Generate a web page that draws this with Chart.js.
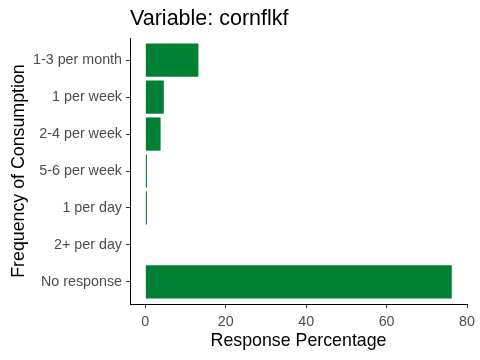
<!DOCTYPE html>
<html lang="en">
<head>
    <meta charset="UTF-8">
    <title>Variable: cornflkf</title>
    <script src="https://cdn.jsdelivr.net/npm/chart.js@4"></script>
    <style>
        body{ margin:0; background:#fff; }
        #wrap{ width:480px; height:360px; }
    </style>
</head>
<body>
    <div id="wrap"><canvas id="myChart" width="480" height="360"></canvas></div>

    <script>
        // categories top to bottom, values in percent
        const categories = ['1-3 per month', '1 per week', '2-4 per week', '5-6 per week', '1 per day', '2+ per day', 'No response'];
        const percents = [13.2, 4.6, 3.8, 0.4, 0.4, 0, 76.2];
        const xTicks = [0, 20, 40, 60, 80];

        const font = 'Arial, "Liberation Sans", sans-serif';

        // linear index axis so the padding at the ends can be like ggplot (0.6 of a step)
        const points = categories.map((c, i) => ({ x: percents[i], y: i }));

        const ctx = document.getElementById('myChart').getContext('2d');
        const myChart = new Chart(ctx, {
            type: 'bar',
            data: {
                datasets: [{
                    data: points,
                    backgroundColor: '#008033',
                    borderWidth: 0,
                    barPercentage: 0.9,
                    categoryPercentage: 1
                }]
            },
            options: {
                indexAxis: 'y',
                responsive: false,
                animation: false,
                layout: { padding: { left: 0, right: 10.7, top: 0, bottom: 0 } },
                plugins: {
                    legend: { display: false },
                    tooltip: { enabled: false },
                    title: {
                        display: true,
                        text: 'Variable: cornflkf',
                        align: 'start',
                        fullSize: false,
                        color: '#000',
                        font: { family: font, size: 21.5, weight: 'normal', lineHeight: 1.2 },
                        padding: { top: 6.5, bottom: 5.7 }
                    }
                },
                scales: {
                    x: {
                        type: 'linear',
                        min: -3.81,
                        max: 80,
                        afterFit: s => { s.height = 56; },
                        afterBuildTicks: s => { s.ticks = xTicks.map(v => ({ value: v })); },
                        ticks: { color: '#4d4d4d', padding: 5, font: { family: font, size: 14.3 } },
                        grid: { drawOnChartArea: false, drawTicks: true, tickLength: 4, tickColor: '#333' },
                        border: { display: true, color: '#000', width: 1 },
                        title: {
                            display: true,
                            text: 'Response Percentage',
                            color: '#000',
                            font: { family: font, size: 17.8, lineHeight: 1.2 },
                            padding: { top: 0, bottom: 8.3 }
                        }
                    },
                    y: {
                        type: 'linear',
                        offset: false,
                        min: -0.6,
                        max: categories.length - 0.4,
                        reverse: true,
                        afterFit: s => { s.width = 130; },
                        afterBuildTicks: s => { s.ticks = categories.map((c, i) => ({ value: i })); },
                        ticks: {
                            autoSkip: false,
                            color: '#4d4d4d',
                            padding: 4,
                            font: { family: font, size: 14.3 },
                            callback: v => categories[v]
                        },
                        grid: { offset: false, drawOnChartArea: false, drawTicks: true, tickLength: 4, tickColor: '#333' },
                        border: { display: true, color: '#000', width: 1 },
                        title: {
                            display: true,
                            text: 'Frequency of Consumption',
                            color: '#000',
                            font: { family: font, size: 17.8, lineHeight: 1.2 },
                            padding: { top: 8.2, bottom: 0 }
                        }
                    }
                }
            }
        });
    </script>
</body>
</html>
